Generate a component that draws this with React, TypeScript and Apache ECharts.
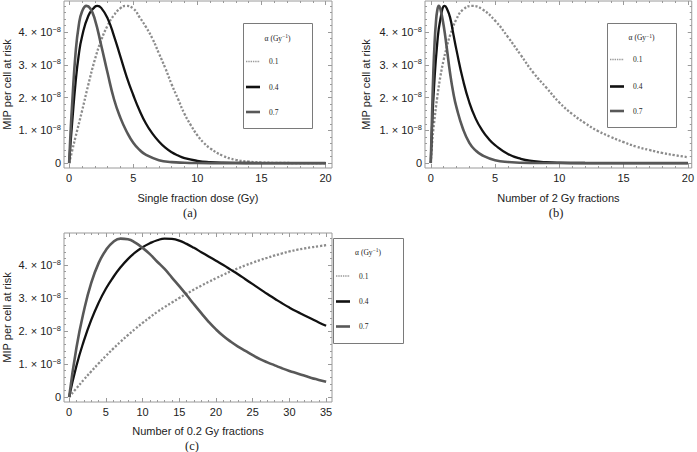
import React, { useEffect, useRef } from "react";
import * as echarts from "echarts";

// ---------- data (MIP per cell at risk, in units of 1e-8) ----------
const alphaLabels = ["0.1", "0.4", "0.7"];
const legendTitle = "α (Gy";

// (a) single fraction dose (Gy)
const doseA_01 = [0, 0.25, 0.5, 1, 1.5, 2, 2.5, 3, 3.5, 4, 4.4, 5, 5.5, 6, 6.5, 7, 7.5, 8, 8.5, 9, 9.5, 10, 10.5, 11, 12, 13, 14, 15, 16, 18, 20];
const mipA_01 = [0, 0.4, 0.8, 1.58, 2.4, 3.15, 3.75, 4.2, 4.52, 4.73, 4.8, 4.72, 4.45, 4.15, 3.8, 3.35, 2.9, 2.4, 1.95, 1.5, 1.15, 0.85, 0.62, 0.45, 0.22, 0.1, 0.045, 0.02, 0.008, 0.001, 0];
const doseA_04 = [0, 0.1, 0.25, 0.5, 0.75, 1, 1.5, 2, 2.2, 2.5, 3, 3.5, 4, 4.5, 5, 5.5, 6, 6.5, 7, 7.5, 8, 8.5, 9, 10, 11, 12, 14, 17, 20];
const mipA_04 = [0, 0.55, 1.3, 2.45, 3.3, 3.85, 4.5, 4.77, 4.8, 4.74, 4.42, 3.88, 3.25, 2.62, 2.08, 1.6, 1.2, 0.9, 0.66, 0.47, 0.33, 0.23, 0.15, 0.07, 0.03, 0.012, 0.002, 0, 0];
const doseA_07 = [0, 0.1, 0.25, 0.5, 0.75, 1, 1.35, 1.65, 2, 2.5, 3, 3.5, 4, 4.5, 5, 5.5, 6, 7, 8, 9, 10, 12, 15, 20];
const mipA_07 = [0, 0.85, 1.9, 3.35, 4.2, 4.62, 4.8, 4.72, 4.4, 3.6, 2.75, 1.95, 1.38, 0.95, 0.62, 0.4, 0.25, 0.09, 0.03, 0.01, 0.003, 0, 0, 0];

// (b) number of 2 Gy fractions
const nB_01 = [0, 0.1, 0.25, 0.5, 0.75, 1, 1.25, 1.5, 2, 2.5, 3.2, 4, 5, 6, 7, 8, 9, 10, 11, 12, 13, 14, 15, 16, 17, 18, 19, 20];
const mipB_01 = [0, 0.6, 1.2, 2.0, 2.65, 3.15, 3.55, 3.9, 4.4, 4.68, 4.8, 4.7, 4.35, 3.85, 3.3, 2.75, 2.3, 1.85, 1.5, 1.22, 0.98, 0.8, 0.64, 0.5, 0.4, 0.31, 0.24, 0.18];
const nB_04 = [0, 0.1, 0.25, 0.5, 0.75, 1.08, 1.25, 1.5, 1.75, 2, 2.5, 3, 3.5, 4, 4.5, 5, 6, 7, 8, 9, 10, 12, 15, 20];
const mipB_04 = [0, 1.1, 2.3, 3.65, 4.4, 4.8, 4.72, 4.45, 3.95, 3.45, 2.55, 1.85, 1.35, 1.0, 0.74, 0.55, 0.28, 0.13, 0.06, 0.025, 0.01, 0.002, 0, 0];
const nB_07 = [0, 0.1, 0.2, 0.3, 0.4, 0.5, 0.62, 0.75, 1, 1.25, 1.5, 1.75, 2, 2.5, 3, 3.5, 4, 5, 6, 8, 10, 15, 20];
const mipB_07 = [0, 1.5, 2.8, 3.7, 4.3, 4.65, 4.8, 4.7, 4.2, 3.5, 2.75, 2.15, 1.7, 1.05, 0.62, 0.38, 0.24, 0.09, 0.035, 0.005, 0.001, 0, 0];

// (c) number of 0.2 Gy fractions (read at every fraction count 0..35)
const nC = [0, 1, 2, 3, 4, 5, 6, 7, 8, 9, 10, 11, 12, 13, 14, 15, 16, 17, 18, 19, 20, 21, 22, 23, 24, 25, 26, 27, 28, 29, 30, 31, 32, 33, 34, 35];
const mipC_01 = [0, 0.265, 0.525, 0.775, 1.015, 1.245, 1.465, 1.675, 1.875, 2.065, 2.245, 2.415, 2.58, 2.725, 2.865, 3.0, 3.13, 3.255, 3.375, 3.49, 3.6, 3.705, 3.81, 3.9, 3.99, 4.07, 4.15, 4.22, 4.29, 4.35, 4.41, 4.46, 4.5, 4.54, 4.57, 4.6];
const mipC_04 = [0, 0.95, 1.7, 2.33, 2.85, 3.28, 3.63, 3.93, 4.18, 4.38, 4.54, 4.66, 4.75, 4.8, 4.79, 4.74, 4.64, 4.52, 4.39, 4.26, 4.13, 4.0, 3.86, 3.72, 3.57, 3.42, 3.27, 3.12, 2.98, 2.84, 2.71, 2.59, 2.48, 2.37, 2.26, 2.16];
const mipC_07 = [0, 1.5, 2.6, 3.45, 4.05, 4.45, 4.7, 4.8, 4.78, 4.68, 4.52, 4.33, 4.1, 3.88, 3.62, 3.36, 3.09, 2.81, 2.54, 2.28, 2.05, 1.85, 1.68, 1.53, 1.4, 1.27, 1.15, 1.05, 0.96, 0.87, 0.79, 0.72, 0.65, 0.58, 0.52, 0.46];

// tick labels
const xTicksAB = [0, 5, 10, 15, 20];
const xTicksC = [0, 5, 10, 15, 20, 25, 30, 35];
const yTicks = [0, 1, 2, 3, 4];
const yExponent = "−8";

const xNames = ["Single fraction dose (Gy)", "Number of 2 Gy fractions", "Number of 0.2 Gy fractions"];
const yName = "MIP per cell at risk";
const captions = ["(a)", "(b)", "(c)"];

// ---------- layout / style ----------
const SANS = "Liberation Sans";
const SERIF = "Liberation Serif";
const FRAME = "#9a9a9a";
const TXT = "#222222";
const seriesStyles = [
  { color: "#8c8c8c", width: 2.3, type: [2.2, 1.8] as any, z: 1 },
  { color: "#111111", width: 2.3, type: "solid" as any, z: 2 },
  { color: "#585858", width: 2.6, type: "solid" as any, z: 3 },
];

const panels = [
  { left: 58, top: 1, width: 274, height: 167, xMin: -0.4, xMax: 20.5, yMin: -0.15, yMax: 4.95, xMajor: xTicksAB, xEnd: 20,
    curves: [[doseA_01, mipA_01], [doseA_04, mipA_04], [doseA_07, mipA_07]],
    legend: { x: 243, y: 23, w: 69, h: 105, ty: 38, ey: [61.5, 87, 112], cap: [190, 213] } },
  { left: 425, top: 1, width: 267, height: 167, xMin: -0.45, xMax: 20.3, yMin: -0.15, yMax: 4.95, xMajor: xTicksAB, xEnd: 20,
    curves: [[nB_01, mipB_01], [nB_04, mipB_04], [nB_07, mipB_07]],
    legend: { x: 607, y: 23, w: 69, h: 104, ty: 37.5, ey: [59.5, 86.5, 111], cap: [556, 213] } },
  { left: 58, top: 233, width: 274, height: 169, xMin: -0.7, xMax: 35.8, yMin: -0.15, yMax: 4.97, xMajor: xTicksC, xEnd: 35,
    curves: [[nC, mipC_01], [nC, mipC_04], [nC, mipC_07]],
    legend: { x: 333, y: 238, w: 70, h: 105, ty: 252, ey: [276, 301.5, 326.5], cap: [192, 446] } },
];

function steps(from: number, to: number, step: number, skipEvery: number) {
  const out: number[] = [];
  const n = Math.round((to - from) / step);
  for (let i = 0; i <= n; i++) {
    if (i % skipEvery === 0) continue;
    out.push(+(from + i * step).toFixed(4));
  }
  return out;
}

function buildOption() {
  const grid: any[] = [];
  const xAxis: any[] = [];
  const yAxis: any[] = [];
  const series: any[] = [];
  const graphic: any[] = [];

  const yMinor = steps(0, 4.8, 0.2, 5);

  panels.forEach((p, g) => {
    grid.push({ left: p.left, top: p.top, width: p.width, height: p.height, show: true, borderColor: FRAME, borderWidth: 1, containLabel: false });
    const xMinor = steps(0, p.xEnd, 1, 5);
    const tick = (vals: number[], len: number) => ({ show: true, inside: true, length: len, customValues: vals, lineStyle: { color: FRAME, width: 1 } });
    const base = (extra: any) => ({
      type: "value", gridIndex: g, splitLine: { show: false }, axisLine: { show: false, onZero: false }, ...extra,
    });
    // x axes
    xAxis.push(base({
      position: "bottom", min: p.xMin, max: p.xMax,
      axisTick: tick(p.xMajor, 4),
      axisLabel: { show: true, customValues: p.xMajor, margin: 4, fontSize: 11, color: TXT, fontFamily: SANS },
      name: xNames[g], nameLocation: "middle", nameGap: g === 2 ? 23 : 24,
      nameTextStyle: { fontSize: 11, color: TXT, fontFamily: SANS },
    }));
    xAxis.push(base({ position: "bottom", min: p.xMin, max: p.xMax, axisTick: tick(xMinor, 2), axisLabel: { show: false } }));
    xAxis.push(base({ position: "top", min: p.xMin, max: p.xMax, axisTick: tick(p.xMajor, 4), axisLabel: { show: false } }));
    xAxis.push(base({ position: "top", min: p.xMin, max: p.xMax, axisTick: tick(xMinor, 2), axisLabel: { show: false } }));
    // y axes
    yAxis.push(base({
      position: "left", min: p.yMin, max: p.yMax,
      axisTick: tick(yTicks, 4),
      axisLabel: {
        show: true, customValues: yTicks, margin: 3, color: TXT, fontFamily: SANS, fontSize: 11,
        formatter: (v: number) => (v === 0 ? "0" : `{b|${v}. × 10}{s|${yExponent}}`),
        rich: {
          b: { fontSize: 11, fontFamily: SANS, color: TXT, lineHeight: 14, verticalAlign: "middle" },
          s: { fontSize: 7.5, fontFamily: SANS, color: TXT, lineHeight: 8, verticalAlign: "top" },
        },
      },
      name: yName, nameLocation: "middle", nameGap: g === 1 ? 54 : 52, nameRotate: 90,
      nameTextStyle: { fontSize: 11, color: TXT, fontFamily: SANS },
    }));
    yAxis.push(base({ position: "left", min: p.yMin, max: p.yMax, axisTick: tick(yMinor, 2), axisLabel: { show: false } }));
    yAxis.push(base({ position: "right", min: p.yMin, max: p.yMax, axisTick: tick(yTicks, 4), axisLabel: { show: false } }));
    yAxis.push(base({ position: "right", min: p.yMin, max: p.yMax, axisTick: tick(yMinor, 2), axisLabel: { show: false } }));

    p.curves.forEach(([xs, ys], k) => {
      const st = seriesStyles[k];
      series.push({
        type: "line", name: alphaLabels[k], xAxisIndex: g * 4, yAxisIndex: g * 4,
        data: xs.map((x, i) => [x, ys[i]]),
        showSymbol: false, symbol: "none", smooth: 0.5, clip: true, z: st.z,
        lineStyle: { color: st.color, width: st.width, type: st.type, cap: "butt" },
      });
    });

    // legend box
    const L = p.legend;
    const cx = L.x + L.w / 2;
    graphic.push({ type: "rect", shape: { x: L.x + 0.5, y: L.y + 0.5, width: L.w, height: L.h }, style: { fill: "#fff", stroke: "#7a7a7a", lineWidth: 1 }, z: 50 });
    graphic.push({
      type: "text", z: 51, x: cx, y: L.ty,
      style: {
        text: `{t|${legendTitle}}{s|−1}{t|)}`, fill: TXT, align: "center", verticalAlign: "middle", textAlign: "center", textVerticalAlign: "middle",
        rich: {
          t: { fontSize: 7.5, fontFamily: SERIF, fill: TXT, color: TXT, lineHeight: 10, verticalAlign: "middle" },
          s: { fontSize: 5.5, fontFamily: SERIF, fill: TXT, color: TXT, lineHeight: 6, verticalAlign: "top" },
        },
      },
    });
    alphaLabels.forEach((lab, k) => {
      const st = seriesStyles[k];
      const ly = L.ey[k];
      graphic.push({
        type: "line", z: 51, shape: { x1: L.x + 3, y1: ly, x2: L.x + 17, y2: ly },
        style: { stroke: k === 0 ? "#9a9a9a" : st.color, lineWidth: k === 0 ? 1.4 : 2.6, lineDash: k === 0 ? [1.4, 0.9] : null },
      });
      graphic.push({
        type: "text", z: 51, x: L.x + 26, y: ly,
        style: { text: lab, fontSize: 7.5, fontFamily: SERIF, fill: TXT, align: "left", verticalAlign: "middle", textAlign: "left", textVerticalAlign: "middle" },
      });
    });
    graphic.push({
      type: "text", z: 51, x: L.cap[0], y: L.cap[1],
      style: { text: captions[g], fontSize: 12.5, fontFamily: SERIF, fill: TXT, align: "center", verticalAlign: "middle", textAlign: "center", textVerticalAlign: "middle" },
    });
  });

  return { animation: false, backgroundColor: "#ffffff", grid, xAxis, yAxis, series, graphic };
}

export default function App() {
  const ref = useRef<HTMLDivElement>(null);
  useEffect(() => {
    if (!ref.current) return;
    const chart = echarts.init(ref.current, null, { renderer: "svg" });
    chart.setOption(buildOption() as any);
    return () => chart.dispose();
  }, []);
  return <div ref={ref} style={{ position: "fixed", left: 0, top: 0, width: 697, height: 452, background: "#fff" }} />;
}
